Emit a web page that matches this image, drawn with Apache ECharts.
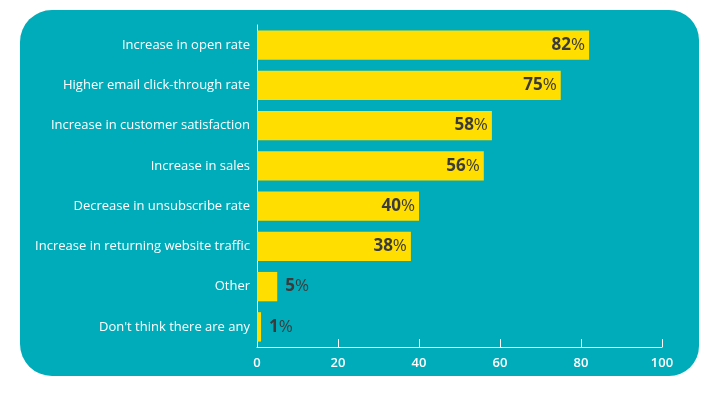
<!DOCTYPE html>
<html>
<head>
<meta charset="utf-8">
<script src="https://cdn.jsdelivr.net/npm/echarts@6/dist/echarts.min.js"></script>
<style>
  html, body { margin: 0; padding: 0; background: #fff; }
  #chart { width: 720px; height: 399px; }
</style>
</head>
<body>
<div id="chart"></div>
<script>
const categories = [
  "Increase in open rate",
  "Higher email click-through rate",
  "Increase in customer satisfaction",
  "Increase in sales",
  "Decrease in unsubscribe rate",
  "Increase in returning website traffic",
  "Other",
  "Don't think there are any",
];
const values = [82, 75, 58, 56, 40, 38, 5, 1];
const xTicks = [0, 20, 40, 60, 80, 100];

const teal = "#00acba";
const yellow = "#ffde00";
const dark = "#3b3b3b";

const chart = echarts.init(document.getElementById("chart"));

// big bars carry their label inside, the short ones outside
const barData = values.map((v) => ({
  value: v,
  label: v > 20 ? { position: "insideRight", distance: 4 } : { position: "right", distance: 8 },
}));

chart.setOption({
  animation: false,
  graphic: [
    {
      type: "rect",
      z: -10,
      shape: { x: 20, y: 10, width: 679, height: 366, r: [32, 30, 30, 32] },
      style: { fill: teal },
    },
  ],
  grid: { left: 257, right: 58, top: 25, bottom: 52 },
  xAxis: {
    type: "value",
    min: 0,
    max: 100,
    interval: 20,
    splitLine: { show: false },
    axisLine: { show: true, lineStyle: { color: "#ffffff", width: 1 } },
    axisTick: { show: true, inside: true, length: 8, lineStyle: { color: "#ffffff" } },
    axisLabel: {
      color: "#ffffff",
      fontFamily: "Open Sans",
      fontSize: 13,
      fontWeight: 600,
      margin: 10,
      formatter: (v) => (xTicks.includes(v) ? String(v) : ""),
    },
  },
  yAxis: {
    type: "category",
    inverse: true,
    data: categories,
    axisLine: { show: true, lineStyle: { color: "#ffffff", width: 1 } },
    axisTick: { show: false },
    axisLabel: {
      color: "#ffffff",
      fontFamily: "Open Sans",
      fontSize: 13,
      fontWeight: 500,
      margin: 7,
    },
  },
  series: [
    {
      type: "bar",
      data: barData,
      barCategoryGap: "27%",
      itemStyle: { color: yellow },
      label: {
        show: true,
        formatter: (p) => "{n|" + p.value + "}{p|%}",
        rich: {
          n: { color: dark, fontFamily: "Open Sans", fontSize: 17, fontWeight: 700 },
          p: { color: dark, fontFamily: "Open Sans", fontSize: 17, fontWeight: 400 },
        },
      },
    },
  ],
});
</script>
</body>
</html>
